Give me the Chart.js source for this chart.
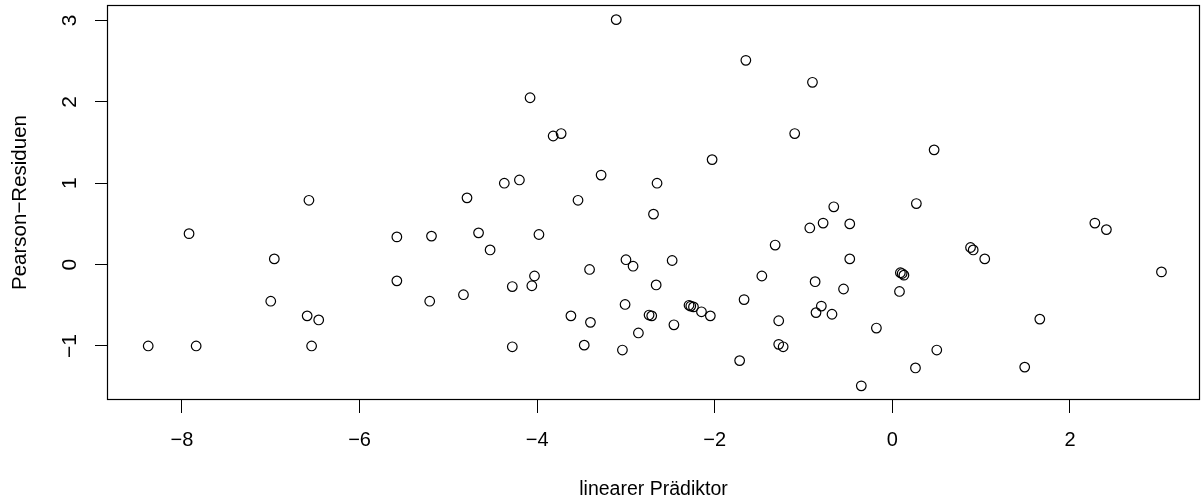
<!DOCTYPE html>
<html>
<head>
<meta charset="utf-8">
<script src="https://cdn.jsdelivr.net/npm/chart.js@4/dist/chart.umd.min.js"></script>
<style>
  html, body { margin: 0; padding: 0; background: #fff; }
  #plot { display: block; }
</style>
</head>
<body>
<canvas id="plot" width="1202" height="501"></canvas>
<script>
// linearer Prädiktor (x) und Pearson-Residuen (y)
var praediktor = [
    -8.38, -7.92, -7.84, -6.96, -7.00, -6.57, -6.59, -6.46, -6.54, -5.58,
    -5.58, -5.19, -5.21, -4.79, -4.83, -4.66, -4.53, -4.37, -4.20, -4.28,
    -4.28, -4.08, -3.98, -4.03, -4.06, -3.82, -3.73, -3.54, -3.41, -3.62,
    -3.40, -3.47, -3.11, -3.28, -3.00, -2.92, -3.01, -3.04, -2.86, -2.65,
    -2.69, -2.66, -2.74, -2.71, -2.46, -2.48, -2.29, -2.27, -2.24, -2.15,
    -2.05, -2.03, -1.65, -1.32, -1.47, -1.67, -1.72, -1.28, -1.28, -1.23,
    -0.90, -1.10, 0.47, 0.27, -0.66, -0.93, -0.78, -0.48, -0.48, -0.87,
    -0.55, -0.80, -0.86, -0.68, -0.18, -0.35, 0.08, 0.09, 0.11, 0.13,
    0.26, 0.50, 0.88, 0.91, 1.04, 1.66, 1.49, 2.28, 2.41, 3.03
];
var residuen = [
    -1.00, 0.38, -1.00, 0.07, -0.45, 0.79, -0.63, -0.68, -1.00, 0.34,
    -0.20, 0.35, -0.45, 0.82, -0.37, 0.39, 0.18, 1.00, 1.04, -0.27,
    -1.01, 2.05, 0.37, -0.14, -0.26, 1.58, 1.61, 0.79, -0.06, -0.63,
    -0.71, -0.99, 3.01, 1.10, 0.06, -0.02, -0.49, -1.05, -0.84, 1.00,
    0.62, -0.25, -0.62, -0.63, -0.74, 0.05, -0.50, -0.51, -0.52, -0.58,
    -0.63, 1.29, 2.51, 0.24, -0.14, -0.43, -1.18, -0.69, -0.98, -1.01,
    2.24, 1.61, 1.41, 0.75, 0.71, 0.45, 0.51, 0.50, 0.07, -0.21,
    -0.30, -0.51, -0.59, -0.61, -0.78, -1.49, -0.33, -0.10, -0.11, -0.13,
    -1.27, -1.05, 0.21, 0.18, 0.07, -0.67, -1.26, 0.51, 0.43, -0.09
];
var xTicks = [-8, -6, -4, -2, 0, 2];
var yTicks = [-1, 0, 1, 2, 3];
var xTitel = 'linearer Prädiktor';
var yTitel = 'Pearson\u2212Residuen';

var familie = '"Liberation Sans", Arial, Helvetica, sans-serif';

function minusZeichen(v) {
    return String(v).replace('-', '\u2212');
}

// Rahmen um die Zeichenfläche wie bei R (box)
var rahmen = {
    id: 'rahmen',
    afterDraw: function (chart) {
        var a = chart.chartArea;
        var ctx = chart.ctx;
        ctx.save();
        ctx.strokeStyle = '#000';
        ctx.lineWidth = 1.2;
        ctx.strokeRect(Math.round(a.left) + 0.5, Math.round(a.top) + 0.5,
            Math.round(a.right - a.left) - 1, Math.round(a.bottom - a.top) - 1);
        ctx.restore();
    }
};

var punkte = praediktor.map(function (x, i) {
    return { x: x, y: residuen[i] };
});

new Chart(document.getElementById('plot').getContext('2d'), {
    type: 'scatter',
    data: {
        datasets: [{
            data: punkte,
            pointStyle: 'circle',
            pointRadius: 4.8,
            pointHoverRadius: 4.8,
            borderWidth: 1.2,
            borderColor: '#000',
            backgroundColor: 'rgba(0,0,0,0)'
        }]
    },
    options: {
        responsive: false,
        animation: false,
        events: [],
        layout: { padding: { top: 5, right: 2, left: 0, bottom: 0 }, autoPadding: false },
        plugins: {
            legend: { display: false },
            tooltip: { enabled: false }
        },
        scales: {
            x: {
                type: 'linear',
                min: -8.844,
                max: 3.464,
                afterBuildTicks: function (axis) {
                    axis.ticks = xTicks.map(function (v) { return { value: v }; });
                },
                afterFit: function (axis) {
                    axis.height = 101;
                    axis.paddingLeft = 0;
                    axis.paddingRight = 0;
                },
                border: { display: false },
                grid: { drawOnChartArea: false, drawTicks: true, tickLength: 13, color: '#000', lineWidth: 1 },
                ticks: {
                    color: '#000',
                    font: { family: familie, size: 20 },
                    padding: 15,
                    maxRotation: 0,
                    callback: function (v) { return minusZeichen(v); }
                },
                title: {
                    display: true,
                    text: xTitel,
                    color: '#000',
                    font: { family: familie, size: 19.5 },
                    padding: { top: 0, bottom: 0 }
                }
            },
            y: {
                type: 'linear',
                min: -1.664,
                max: 3.19,
                afterBuildTicks: function (axis) {
                    axis.ticks = yTicks.map(function (v) { return { value: v }; });
                },
                afterFit: function (axis) {
                    axis.width = 107;
                    axis.paddingTop = 0;
                    axis.paddingBottom = 0;
                },
                border: { display: false },
                grid: { drawOnChartArea: false, drawTicks: true, tickLength: 12, color: '#000', lineWidth: 1 },
                ticks: {
                    color: '#000',
                    font: { family: familie, size: 21 },
                    padding: 13,
                    minRotation: 90,
                    maxRotation: 90,
                    crossAlign: 'center',
                    callback: function (v) { return minusZeichen(v); }
                },
                title: {
                    display: true,
                    text: yTitel,
                    color: '#000',
                    font: { family: familie, size: 20.5 },
                    padding: { top: 8.5, bottom: 0 }
                }
            }
        }
    },
    plugins: [rahmen]
});
</script>
</body>
</html>
